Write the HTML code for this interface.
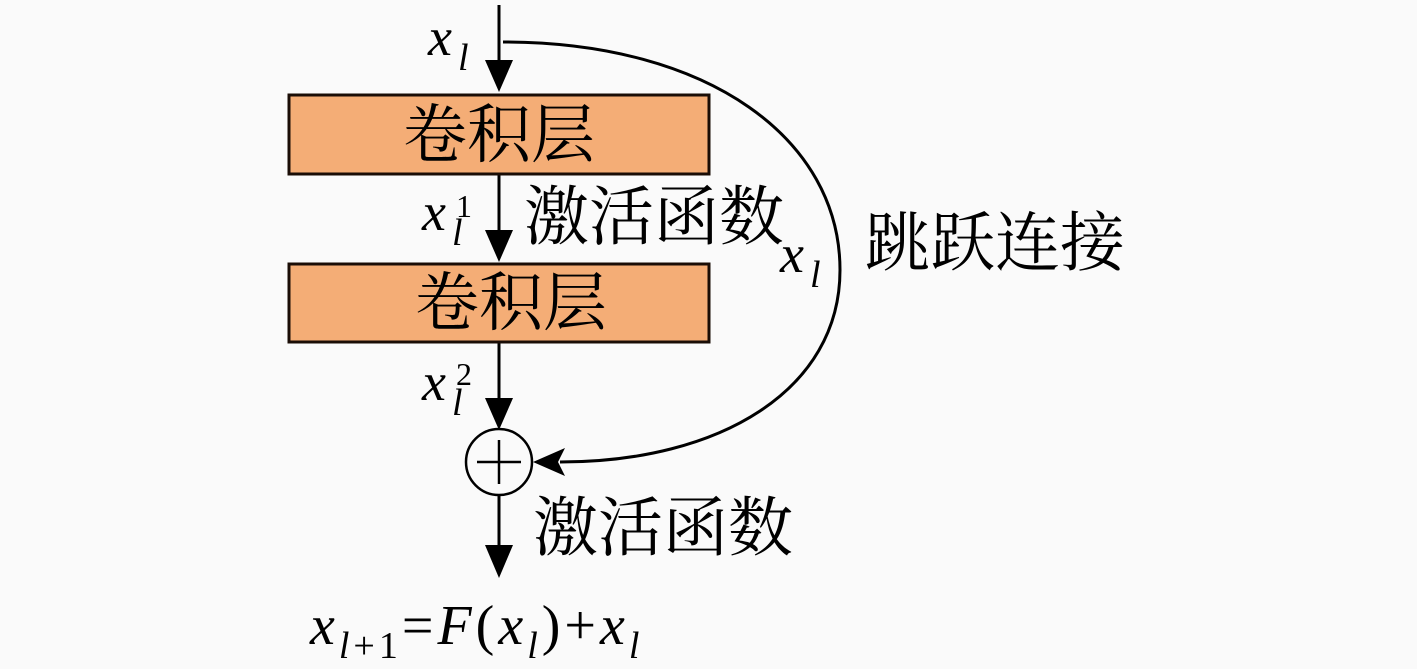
<!DOCTYPE html>
<html><head><meta charset="utf-8"><style>
body{margin:0;background:#fafafa;}
svg{display:block}
.m{font-family:"Liberation Serif",serif;font-style:italic;}
.c{font-family:"Liberation Serif","Noto Serif CJK SC",serif;}
</style></head><body>
<svg width="1417" height="669" viewBox="0 0 1417 669">
<g stroke="#000" stroke-width="3" fill="none">
<line x1="499" y1="5" x2="499" y2="70"/>
<line x1="499" y1="174" x2="499" y2="240"/>
<line x1="499" y1="342" x2="499" y2="408"/>
<line x1="499" y1="495" x2="499" y2="555"/>
<path d="M503 42 C 710 42, 840 140, 840 270 C 840 390, 720 462, 560 462"/>
<circle cx="499" cy="462" r="33" stroke-width="2.5"/>
<line x1="499" y1="440" x2="499" y2="484" stroke-width="2.5"/>
<line x1="477" y1="462" x2="521" y2="462" stroke-width="2.5"/>
</g>
<g fill="#000">
<polygon points="485,60 513,60 499,92"/>
<polygon points="485,230 513,230 499,262"/>
<polygon points="485,398 513,398 499,430"/>
<polygon points="485,545 513,545 499,578"/>
<polygon points="533,462 565,448 558,462 565,476"/>
</g>
<rect x="289" y="95" width="420" height="79" fill="#f4ad76" stroke="#1a0d06" stroke-width="3"/>
<rect x="289" y="264" width="420" height="78" fill="#f4ad76" stroke="#1a0d06" stroke-width="3"/>
<g class="c" font-size="64" text-anchor="middle">
<text x="499" y="157">卷积层</text>
<text x="511" y="325">卷积层</text>
</g>
<g class="c" font-size="65">
<text x="524" y="239">激活函数</text>
<text x="533" y="550">激活函数</text>
<text x="865" y="265">跳跃连接</text>
</g>
<g class="m">
<text x="428" y="55" font-size="54">x</text><text x="458" y="70" font-size="38">l</text>
<text x="422" y="230" font-size="54">x</text><text x="452" y="245" font-size="38">l</text><text x="456" y="217" font-size="32" font-style="normal">1</text>
<text x="422" y="400" font-size="54">x</text><text x="452" y="415" font-size="38">l</text><text x="456" y="385" font-size="32" font-style="normal">2</text>
<text x="780" y="272" font-size="54">x</text><text x="810" y="287" font-size="38">l</text>
<text x="310" y="644" font-size="56" letter-spacing="4">x<tspan font-size="38" dy="14">l</tspan><tspan font-size="38" font-style="normal">+1</tspan><tspan dy="-14" font-style="normal">=</tspan>F<tspan font-style="normal">(</tspan>x<tspan font-size="38" dy="14">l</tspan><tspan dy="-14" font-style="normal">)+</tspan>x<tspan font-size="38" dy="14">l</tspan></text>
</g>
</svg>
</body></html>
